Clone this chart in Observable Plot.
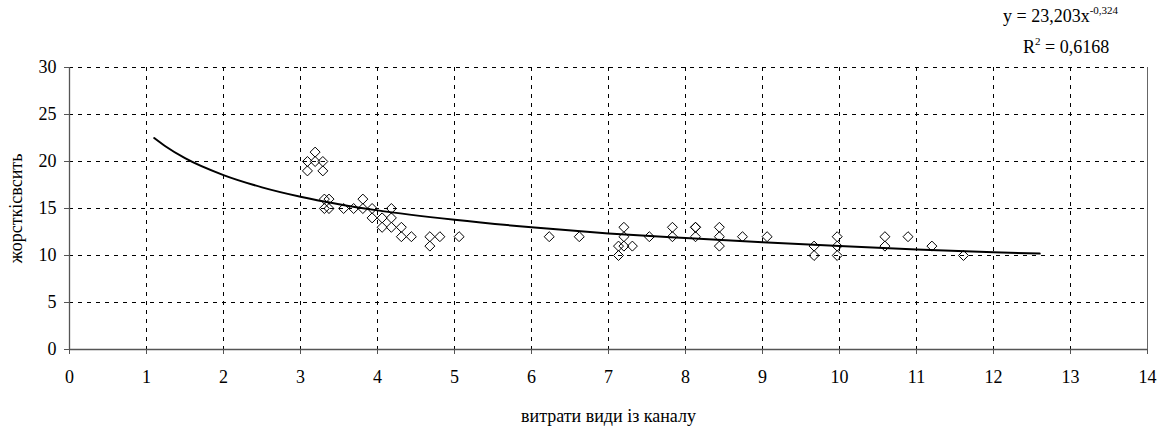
<!DOCTYPE html>
<html>
<head>
<meta charset="utf-8">
<script src="https://cdn.jsdelivr.net/npm/d3@7"></script>
<script src="https://cdn.jsdelivr.net/npm/@observablehq/plot@0.6"></script>
<style>
  html, body { margin: 0; padding: 0; background: #fff; }
  #wrap { position: relative; width: 1165px; height: 430px; font-family: "Liberation Serif", serif; }
  .ann { position: absolute; font-size: 18px; line-height: 20px; color: #000; white-space: nowrap; font-family: "Liberation Serif", serif; }
  .ann sup { font-size: 11px; vertical-align: 0; position: relative; top: -8px; }
</style>
</head>
<body>
<div id="wrap"></div>
<script>
// Scatter data (x: витрати води, y: жорсткість)
const xs = [3.09, 3.09, 3.19, 3.19, 3.29, 3.29,
  3.31, 3.37, 3.31, 3.37, 3.56, 3.69, 3.81, 3.81, 3.93, 3.93, 4.06, 4.06, 4.18, 4.18, 4.18,
  4.31, 4.31, 4.44, 4.68, 4.68, 4.81, 5.06,
  6.23, 6.62,
  7.13, 7.13, 7.2, 7.2, 7.2, 7.31, 7.53, 7.83, 7.83, 8.13, 8.13, 8.13, 8.44, 8.44, 8.44,
  8.74, 9.06, 9.67, 9.67, 9.97, 9.97, 9.97, 10.59, 10.59, 10.89, 11.2, 11.61];
const ys = [20, 19, 21, 20, 20, 19,
  16, 16, 15, 15, 15, 15, 16, 15, 15, 14, 14, 13, 15, 14, 13,
  13, 12, 12, 12, 11, 12, 12,
  12, 12,
  11, 10, 13, 12, 11, 11, 12, 13, 12, 13, 13, 12, 13, 12, 11,
  12, 12, 11, 10, 12, 11, 10, 12, 11, 12, 11, 10];

// Trend line
const trendX = [1.1, 1.25, 1.5, 2, 2.5, 3, 3.5, 4, 5, 6, 7, 8, 9, 10, 11, 12, 12.6];
const trendY = [22.5, 21.6, 20.35, 18.55, 17.25, 16.25, 15.45, 14.8, 13.8, 13.0, 12.35, 11.85, 11.4, 11.0, 10.65, 10.35, 10.2];

const xTicks = [0, 1, 2, 3, 4, 5, 6, 7, 8, 9, 10, 11, 12, 13, 14];
const yTicks = [0, 5, 10, 15, 20, 25, 30];
const xGrid = [1, 2, 3, 4, 5, 6, 7, 8, 9, 10, 11, 12, 13];
const yGrid = [5, 10, 15, 20, 25, 30];

const xLabel = "витрати види із каналу";
const yLabel = "жорсткісвсить";

const points = xs.map((x, i) => ({x, y: ys[i]}));
const trend = trendX.map((x, i) => ({x, y: trendY[i]}));

const chart = Plot.plot({
  width: 1165,
  height: 430,
  marginLeft: 69,
  marginRight: 18,
  marginTop: 67,
  marginBottom: 81,
  style: {fontFamily: "Liberation Serif, serif", fontSize: "18px", background: "#fff", color: "#000"},
  x: {domain: [0, 14]},
  y: {domain: [0, 30]},
  marks: [
    Plot.ruleX(xGrid, {stroke: "#000", strokeDasharray: "4,5", strokeWidth: 1}),
    Plot.ruleY(yGrid, {stroke: "#000", strokeDasharray: "4,5", strokeWidth: 1}),
    Plot.ruleX([14], {stroke: "#666", strokeWidth: 1}),
    Plot.axisX({ticks: xTicks, tickSize: 5, tickPadding: 16, tickFormat: d => String(d), stroke: "#555",
      label: xLabel, labelAnchor: "center", labelArrow: "none", labelOffset: 72, fontSize: 18}),
    Plot.axisY({ticks: yTicks, tickSize: 5, tickPadding: 8, tickFormat: d => String(d), stroke: "#555",
      label: yLabel, labelAnchor: "center", labelArrow: "none", labelOffset: 60, fontSize: 18}),
    Plot.ruleX([0], {stroke: "#555", strokeWidth: 1.3}),
    Plot.ruleY([0], {stroke: "#555", strokeWidth: 1.3}),
    Plot.line(trend, {x: "x", y: "y", stroke: "#000", strokeWidth: 2, curve: "monotone-x"}),
    Plot.dot(points, {x: "x", y: "y", symbol: "diamond2", r: 4.5, stroke: "#000", strokeWidth: 1, fill: "none"})
  ]
});

d3.select(chart).selectAll("text").attr("fill", "#000");

const wrap = document.getElementById("wrap");
wrap.appendChild(chart);

const a1 = document.createElement("div");
a1.className = "ann";
a1.style.left = "1003px"; a1.style.top = "6px";
a1.innerHTML = "y = 23,203x<sup>-0,324</sup>";
const a2 = document.createElement("div");
a2.className = "ann";
a2.style.left = "1023px"; a2.style.top = "37px";
a2.innerHTML = "R<sup>2</sup> = 0,6168";
wrap.appendChild(a1);
wrap.appendChild(a2);
</script>
</body>
</html>
